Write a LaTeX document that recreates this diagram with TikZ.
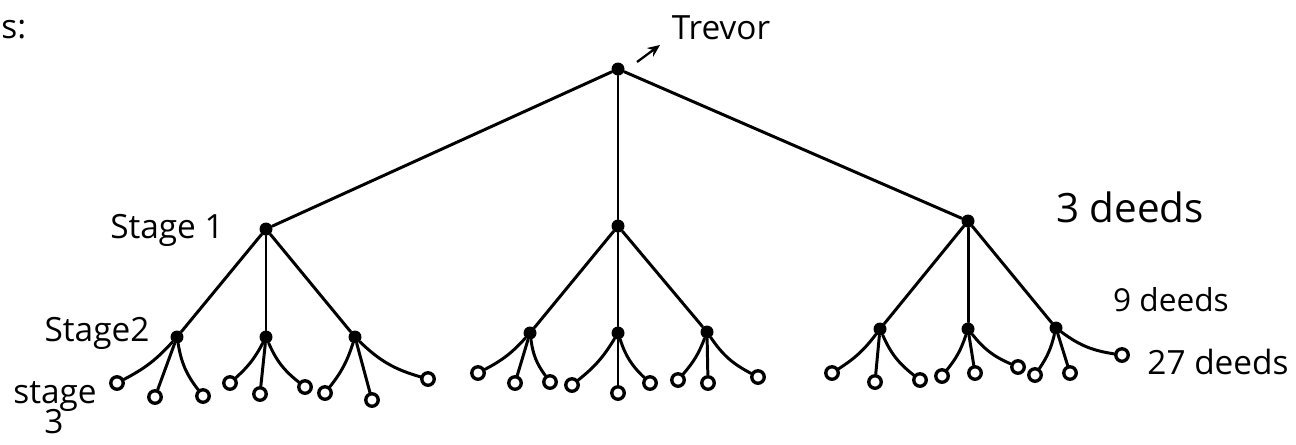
\documentclass[tikz,border=0pt]{standalone}
\usepackage{fontspec}
\setmainfont{Open Sans}
\usetikzlibrary{arrows.meta}
\begin{document}
\begin{tikzpicture}[x=0.02cm,y=-0.02cm,
  dot/.style={circle, fill=black, inner sep=0pt, minimum size=0.26cm},
  leaf/.style={circle, draw=black, line width=1.9pt, fill=white, inner sep=0pt, minimum size=0.25cm},
  branch/.style={line width=1.7pt, line cap=round},
  hand/.style={font=\fontsize{19}{22}\selectfont, inner sep=0pt},
  bigtext/.style={font=\fontsize{23}{27}\selectfont, inner sep=0pt},
  smalltext/.style={font=\fontsize{18}{21}\selectfont, inner sep=0pt}]
\useasboundingbox (0,0) rectangle (1296,444);

% root and first level
\node[dot] (r) at (618,69) {};
\node[dot] (a) at (266,229) {};
\node[dot] (b) at (618,226) {};
\node[dot] (c) at (968,221) {};
\foreach \s in {a,b,c} \draw[branch] (r) -- (\s);

% second level
\foreach \s/\lx/\ly/\mx/\my/\rx/\ry in {
  a/177/337/266/337/355/337,
  b/530/333/618/333/707/332,
  c/880/329/968/329/1056/328} {
  \node[dot] (\s1) at (\lx,\ly) {};
  \node[dot] (\s2) at (\mx,\my) {};
  \node[dot] (\s3) at (\rx,\ry) {};
  \draw[branch] (\s) -- (\s1);
  \draw[branch] (\s) -- (\s2);
  \draw[branch] (\s) -- (\s3);
}

% third level
\foreach \n/\lx/\ly/\mx/\my/\rx/\ry in {
  a1/117/383/155/397/203/396,
  a2/230/383/260/394/305/387,
  a3/325/393/372/400/428/379,
  b1/478/373/515/383/550/382,
  b2/572/385/618/393/650/383,
  b3/678/380/708/383/758/377,
  c1/832/373/875/382/920/380,
  c2/942/376/975/373/1018/367,
  c3/1035/375/1070/373/1122/355} {
  \node[leaf] (\n-l) at (\lx,\ly) {};
  \node[leaf] (\n-m) at (\mx,\my) {};
  \node[leaf] (\n-r) at (\rx,\ry) {};
  \draw[branch] (\n) to[bend left=10] (\n-l);
  \draw[branch] (\n) -- (\n-m);
  \draw[branch] (\n) to[bend right=14] (\n-r);
}

% labels
\node[hand, anchor=west] (s) at (1,30) {s:};
\node[hand] (trevor) at (721,28) {Trevor};
\coordinate (ta) at (637,62);
\coordinate (tb) at (660,45);
\draw[line width=1.3pt, -{Stealth[length=7pt,width=6pt]}] (ta) -- (tb);
\node[hand] (st1) at (167,230) {Stage 1};
\node[hand] (st2) at (97,333) {Stage2};
\node[hand] (st3) at (55,396) {stage};
\node[hand] (st3n) at (54,422) {3};
\node[bigtext] (d3) at (1130,207) {3 deeds};
\node[smalltext] (d9) at (1171,300) {9 deeds};
\node[hand] (d27) at (1218,362) {27 deeds};
\end{tikzpicture}
\end{document}
